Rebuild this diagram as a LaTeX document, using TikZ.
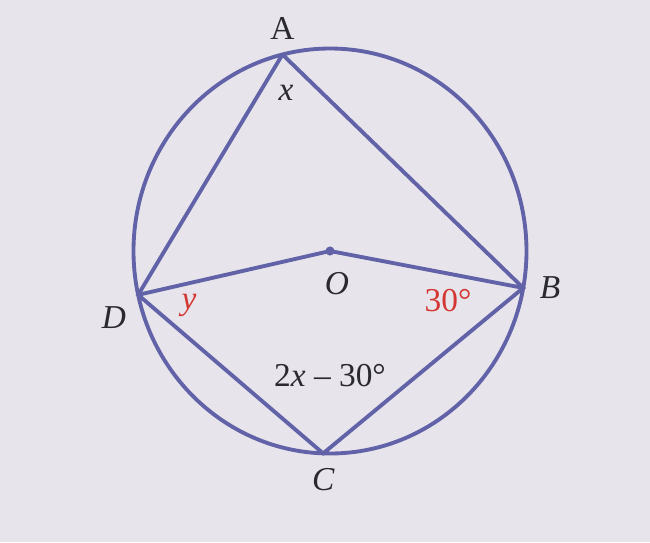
\documentclass[tikz,border=0pt]{standalone}
\usepackage{fontspec}
\setmainfont{Liberation Serif}
\definecolor{rim}{RGB}{98,98,168}
\definecolor{ink}{RGB}{42,40,48}
\definecolor{ang}{RGB}{212,54,50}
\definecolor{paper}{RGB}{231,229,235}
\tikzset{
	pt/.style={inner sep=0pt,minimum size=0pt},
	lbl/.style={text=ink,font=\fontsize{19}{22}\selectfont\itshape},
	anglbl/.style={font=\fontsize{19}{22}\selectfont}
}
\begin{document}
\begin{tikzpicture}[line width=2.2pt,draw=rim]
		\fill[paper] (-6.6,-5.82) rectangle (6.4,5.02);
		\useasboundingbox (-6.6,-5.82) rectangle (6.4,5.02);
		\node[pt] (O) at (0,0) {};
		\node[pt,label={[lbl,font=\fontsize{19}{22}\selectfont,label distance=3pt]above:{A}}] (A) at (104:3.93 and 4.05) {};
		\node[pt,label={[lbl,label distance=4pt]right:{B}}] (B) at (-10.5:3.93 and 4.05) {};
		\node[pt,label={[lbl,label distance=3pt]below:{C}}] (C) at (-92:3.93 and 4.05) {};
		\node[pt,label={[lbl,label distance=2pt]below left:{D}}] (D) at (192.5:3.93 and 4.05) {};
		\draw (O.center) ellipse (3.93 and 4.05) (A.center) -- (B.center) -- (C.center) -- (D.center) -- (A.center) (D.center) -- (O.center) -- (B.center);
		\fill[rim] (O.center) circle (2.6pt);
		\node[lbl] (Olbl) at (0.14,-0.66) {O};
		\node[lbl] (xA) at (-0.88,3.16) {x};
		\node[lbl,text=ang] (yD) at (-2.82,-1.08) {y};
		\node[anglbl,text=ang] (bB) at (2.36,-1.0) {30°};
		\node[anglbl,text=ink] (eC) at (0,-2.5) {2\textit{x} – 30°};
	\end{tikzpicture}
\end{document}
